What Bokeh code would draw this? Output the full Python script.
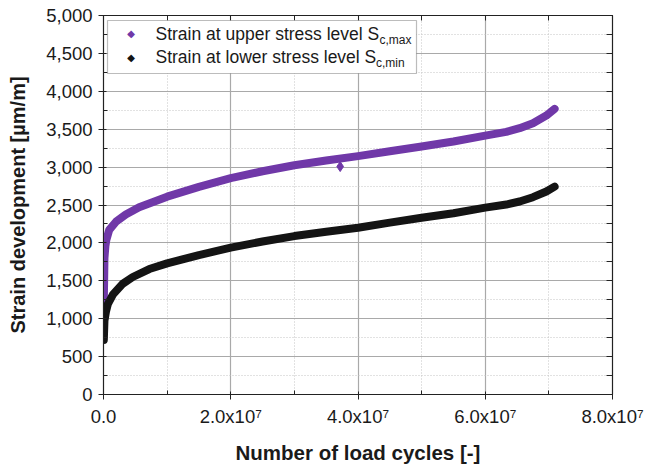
from bokeh.plotting import figure
from bokeh.models import (Range1d, FixedTicker, LinearAxis, NumeralTickFormatter,
                          Label, BoxAnnotation)
from bokeh.embed import file_html
from bokeh.resources import INLINE

# ---- data ----
cycles_upper = [0.05e6, 0.1e6, 0.15e6, 0.3e6, 0.45e6, 0.9e6, 2.0e6, 3.5e6, 5.6e6, 7.7e6,
                1.0e7, 1.5e7, 2.0e7, 2.5e7, 3.0e7, 3.5e7, 4.0e7, 4.5e7, 5.0e7, 5.5e7,
                6.0e7, 6.33e7, 6.54e7, 6.75e7, 6.96e7, 7.09e7]
strain_upper = [1240, 1500, 1800, 1960, 2040, 2172, 2282, 2374, 2470, 2537,
                2610, 2740, 2855, 2945, 3025, 3088, 3145, 3210, 3271, 3337,
                3415, 3465, 3513, 3579, 3680, 3768]

cycles_lower = [0.05e6, 0.15e6, 0.4e6, 0.7e6, 1.5e6, 3.0e6, 4.6e6, 7.2e6, 1.0e7, 1.5e7,
                2.0e7, 2.5e7, 3.0e7, 3.5e7, 4.0e7, 4.5e7, 5.0e7, 5.5e7, 6.0e7, 6.33e7,
                6.54e7, 6.75e7, 6.96e7, 7.09e7]
strain_lower = [720, 976, 1100, 1196, 1320, 1460, 1550, 1655, 1730, 1840,
                1938, 2018, 2090, 2146, 2200, 2268, 2332, 2391, 2465, 2506,
                2546, 2603, 2678, 2743]

outlier_cycles = [3.72e7]
outlier_strain = [3007]

x_ticks = [0, 2e7, 4e7, 6e7, 8e7]
x_tick_labels = ["0.0", "2.0x10\u2077", "4.0x10\u2077", "6.0x10\u2077", "8.0x10\u2077"]
x_minor = [1e7, 3e7, 5e7, 7e7]
y_ticks = list(range(0, 5001, 500))
y_minor = list(range(250, 5000, 500))

legend_main = ["Strain at upper stress level S", "Strain at lower stress level S"]
legend_sub = ["c,max", "c,min"]

PURPLE = "#7038a8"
BLACK = "#141414"
FONT = "Liberation Sans"
AXC = "#222222"

p = figure(width=646, height=466, output_backend="svg", toolbar_location=None,
           x_range=Range1d(0, 8e7), y_range=Range1d(0, 5000),
           min_border_left=103, min_border_right=34, min_border_top=15,
           min_border_bottom=72)
p.background_fill_color = "white"
p.border_fill_color = "white"
p.outline_line_color = AXC
p.outline_line_width = 1.2

# axes
xt = FixedTicker(ticks=x_ticks, minor_ticks=x_minor)
yt = FixedTicker(ticks=y_ticks, minor_ticks=y_minor)
p.xaxis.ticker = xt
p.yaxis.ticker = yt
p.xaxis.major_label_overrides = {t: l for t, l in zip(x_ticks, x_tick_labels)}
p.yaxis.formatter = NumeralTickFormatter(format="0,0")

for ax in (p.xaxis[0], p.yaxis[0]):
    ax.axis_line_color = AXC
    ax.major_tick_line_color = AXC
    ax.minor_tick_line_color = AXC
    ax.major_label_text_font = FONT
    ax.major_label_text_font_size = "18.5px"
    ax.major_label_text_color = "#1a1a1a"
    ax.axis_label_text_font = FONT
    ax.axis_label_text_font_style = "bold"
    ax.axis_label_text_color = "#1a1a1a"
    ax.major_tick_out = 5
    ax.major_tick_in = 3
    ax.minor_tick_out = 0
    ax.minor_tick_in = 4
    ax.major_label_standoff = 6

p.xaxis.axis_label = "Number of load cycles [-]"
p.yaxis.axis_label = "Strain development [\u00b5m/m]"
p.xaxis.axis_label_text_font_size = "20.5px"
p.yaxis.axis_label_text_font_size = "20px"
p.xaxis.axis_label_standoff = 11
p.yaxis.axis_label_standoff = 14

# top and right axes: ticks only (all drawn as minor ticks, so no labels)
top_ax = LinearAxis(ticker=FixedTicker(ticks=[], minor_ticks=x_ticks + x_minor),
                    minor_tick_in=5, minor_tick_out=0, major_tick_in=0, major_tick_out=0,
                    axis_line_color=AXC, minor_tick_line_color=AXC,
                    major_label_standoff=0)
right_ax = LinearAxis(ticker=FixedTicker(ticks=[], minor_ticks=y_ticks + y_minor),
                      minor_tick_in=6, minor_tick_out=0, major_tick_in=0, major_tick_out=0,
                      axis_line_color=AXC, minor_tick_line_color=AXC,
                      major_label_standoff=0)
p.add_layout(top_ax, "above")
p.add_layout(right_ax, "right")

# grids
p.xgrid.ticker = xt
p.ygrid.ticker = yt
for g in (p.xgrid[0], p.ygrid[0]):
    g.grid_line_color = "#a9a9a9"
    g.grid_line_width = 1.2
    g.minor_grid_line_color = "#c4c4c4"
    g.minor_grid_line_dash = "1 2"
    g.minor_grid_line_width = 1

# data
p.line(cycles_upper, strain_upper, line_width=8, line_color=PURPLE,
       line_cap="round", line_join="round")
p.line(cycles_lower, strain_lower, line_width=8, line_color=BLACK,
       line_cap="round", line_join="round")
p.scatter(outlier_cycles, outlier_strain, marker="diamond", size=10,
          fill_color=PURPLE, line_color=PURPLE)

# legend (frame-relative screen units)
p.add_layout(BoxAnnotation(left=4, right=313, bottom=321, top=374,
                           left_units="screen", right_units="screen",
                           top_units="screen", bottom_units="screen",
                           fill_color="white", fill_alpha=1.0,
                           line_color=AXC, line_width=1.2, level="overlay"))
rows_y = [360.7, 337.3]
sub_x = [276, 272.5]
colors = [PURPLE, BLACK]
for i in range(2):
    p.add_layout(Label(x=27.5, y=rows_y[i], x_units="screen", y_units="screen",
                       text="\u25c6", text_font="DejaVu Sans", text_font_size="10px",
                       text_color=colors[i], text_align="center",
                       text_baseline="middle", level="overlay"))
    p.add_layout(Label(x=52, y=rows_y[i], x_units="screen", y_units="screen",
                       text=legend_main[i], text_font=FONT, text_font_size="17.5px",
                       text_color="#1a1a1a", text_baseline="middle", level="overlay"))
    p.add_layout(Label(x=sub_x[i], y=rows_y[i] - 6, x_units="screen", y_units="screen",
                       text=legend_sub[i], text_font=FONT, text_font_size="12px",
                       text_color="#1a1a1a", text_baseline="middle", level="overlay"))

open("out.html", "w").write(file_html(p, INLINE))
